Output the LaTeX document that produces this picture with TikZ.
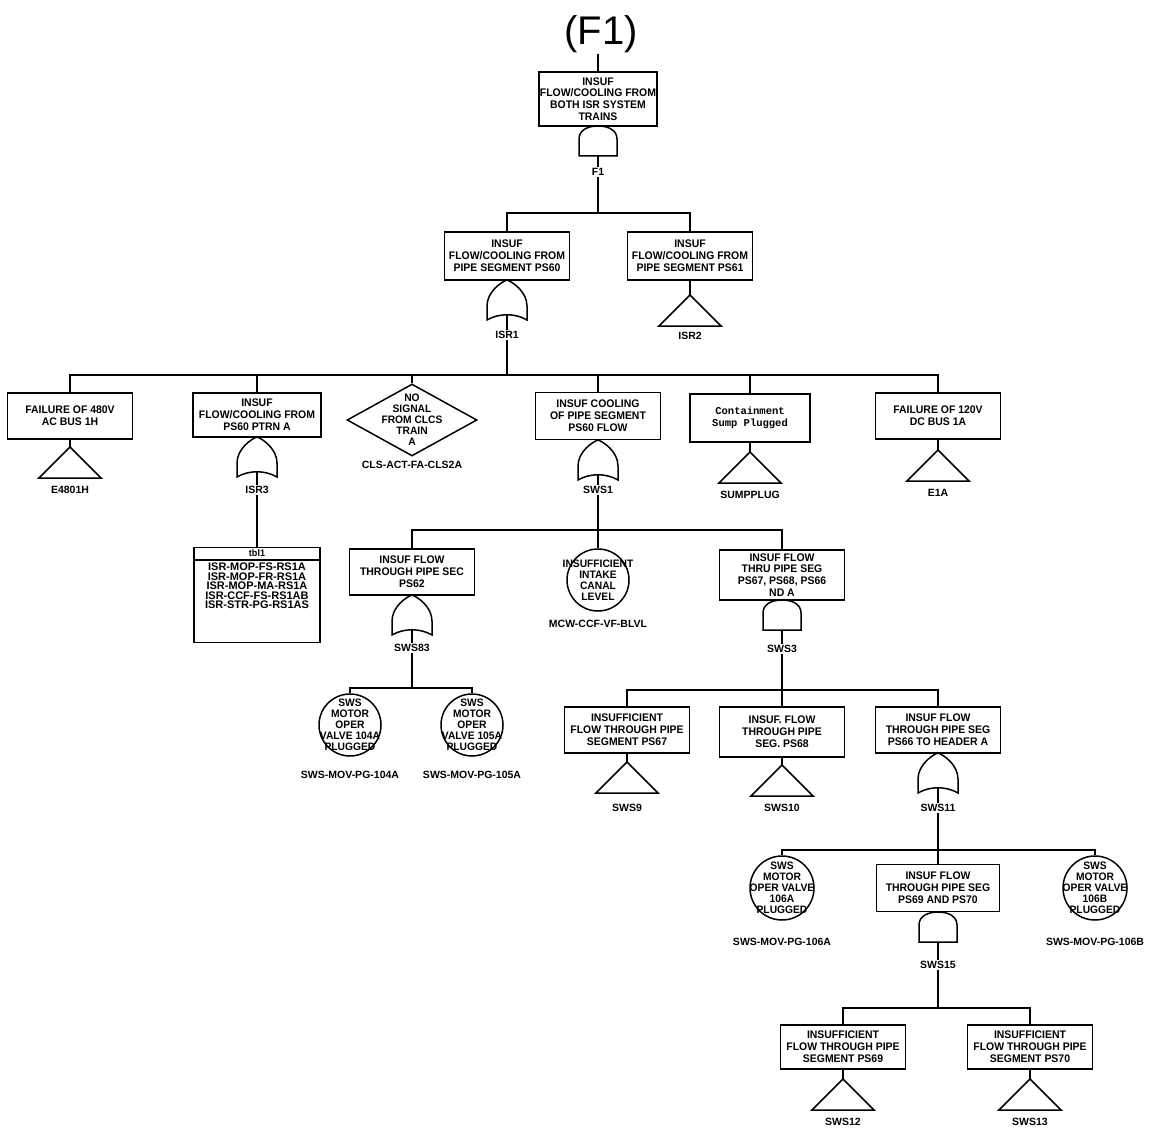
\documentclass[tikz,border=0pt]{standalone}
\usepackage{fontspec}
\setmainfont{Liberation Sans}
\newfontfamily\cadfont{Liberation Sans}[FakeStretch=0.95]
\newfontfamily\cadwide{Liberation Sans}
\newfontfamily\typfont{Liberation Mono}
\usetikzlibrary{shapes.geometric}
\newcommand{\evfont}{\cadfont\bfseries\fontsize{11}{11.8}\selectfont}
\newcommand{\tagfont}{\cadwide\bfseries\fontsize{10.5}{11}\selectfont}
\tikzset{
  ln/.style={line width=1.5pt},
  evbox/.style={draw, ln, minimum width=125pt, minimum height=47pt, inner sep=1pt, align=center, font=\evfont},
  evtext/.style={align=center, inner sep=0pt, font=\evfont},
  basic/.style={draw, circle, ln, minimum size=62pt, inner sep=0pt},
  bastext/.style={align=center, inner sep=0pt, font=\cadfont\bfseries\fontsize{10.8}{11}\selectfont},
  tag/.style={inner sep=1pt, font=\tagfont},
  andgate/.pic={
    \draw[ln] (-19,30) -- (-19,13) .. controls (-19,4) and (-10,0) .. (0,0)
      .. controls (10,0) and (19,4) .. (19,13) -- (19,30) -- cycle;
    \coordinate (-in) at (0,0);
    \coordinate (-out) at (0,30);
  },
  orgate/.pic={
    \draw[ln] (0,0) .. controls (-6,2) and (-20,12) .. (-20,26) -- (-20,40)
      .. controls (-8,33) and (8,33) .. (20,40) -- (20,26)
      .. controls (20,12) and (6,2) .. cycle;
    \coordinate (-in) at (0,0);
    \coordinate (-out) at (0,35);
  },
  xfer/.pic={
    \draw[ln] (0,0) -- (31,31) -- (-31,31) -- cycle;
    \coordinate (-in) at (0,0);
  },
}

\begin{document}
\begin{tikzpicture}[x=1pt,y=-1pt]
  \useasboundingbox (0,0) rectangle (1154,1134);

  % top event
  \node[font=\fontsize{40}{40}\selectfont, inner sep=1pt] (title) at (601,34) {(F1)};
  \node[evbox, minimum width=117pt, minimum height=54pt] (top) at (598,99)
    {INSUF\\FLOW/COOLING FROM\\BOTH ISR SYSTEM\\TRAINS};
  \pic (f1g) at (598,126) {andgate};
  \node[tag] (f1) at (598,172) {F1};
  \coordinate (j1) at (598,213);
  \draw[ln] (top.north |- title.south) -- (top.north);
  \draw[ln] (top.south) -- (f1g-in);
  \draw[ln] (f1g-out) -- (f1.north);
  \draw[ln] (f1.south) -- (j1);

  % pipe segments PS60 / PS61
  \node[evbox, minimum height=48pt] (ps60) at (507,256) {INSUF\\FLOW/COOLING FROM\\PIPE SEGMENT PS60};
  \node[evbox, minimum height=48pt] (ps61) at (690,256) {INSUF\\FLOW/COOLING FROM\\PIPE SEGMENT PS61};
  \foreach \c in {ps60,ps61} \draw[ln] (j1) -| (\c.north);
  \pic (isr1g) at (507,280) {orgate};
  \node[tag] (isr1) at (507,335) {ISR1};
  \pic (isr2t) at (690,295) {xfer};
  \node[tag] (isr2) at (690,336) {ISR2};
  \coordinate (j2) at (507,375);
  \draw[ln] (ps60.south) -- (isr1g-in);
  \draw[ln] (isr1g-out) -- (isr1.north);
  \draw[ln] (isr1.south) -- (j2);
  \draw[ln] (ps61.south) -- (isr2t-in);

  % inputs to ISR1
  \node[evbox, minimum height=46pt] (bus1h) at (70,416) {FAILURE OF 480V\\AC BUS 1H};
  \node[evbox, minimum width=128pt, minimum height=44pt] (ptrn) at (257,415) {INSUF\\FLOW/COOLING FROM\\PS60 PTRN A};
  \node[draw, diamond, ln, minimum width=130pt, minimum height=72pt, inner sep=0pt] (clcs) at (412,420) {};
  \node[evtext, font=\cadfont\bfseries\fontsize{10.8}{11}\selectfont] at (clcs) {NO\\SIGNAL\\FROM CLCS\\TRAIN\\A};
  \node[evbox] (cool) at (598,416) {INSUF COOLING\\OF PIPE SEGMENT\\PS60 FLOW};
  \node[evbox, minimum width=120pt, minimum height=48pt, font=\typfont\bfseries\fontsize{10.5}{12.5}\selectfont] (sump) at (750,418) {Containment\\Sump Plugged};
  \node[evbox, minimum height=46pt] (bus1a) at (938,416) {FAILURE OF 120V\\DC BUS 1A};
  \foreach \c in {bus1h,ptrn,clcs,cool,sump,bus1a} \draw[ln] (j2) -| (\c.north);

  \pic (e480t) at (70,447) {xfer};
  \node[tag] (e480) at (70,490) {E4801H};
  \draw[ln] (bus1h.south) -- (e480t-in);
  \pic (isr3g) at (257,437) {orgate};
  \node[tag] (isr3) at (257,490) {ISR3};
  \draw[ln] (ptrn.south) -- (isr3g-in);
  \draw[ln] (isr3g-out) -- (isr3.north);
  \node[tag] (clsid) at (412,465) {CLS-ACT-FA-CLS2A};
  \pic (sws1g) at (598,440) {orgate};
  \node[tag] (sws1) at (598,490) {SWS1};
  \draw[ln] (cool.south) -- (sws1g-in);
  \draw[ln] (sws1g-out) -- (sws1.north);
  \pic (sumpt) at (750,452) {xfer};
  \node[tag] (sumpid) at (750,495) {SUMPPLUG};
  \draw[ln] (sump.south) -- (sumpt-in);
  \pic (e1at) at (938,450) {xfer};
  \node[tag] (e1a) at (938,493) {E1A};
  \draw[ln] (bus1a.south) -- (e1at-in);

  % table of ISR3 basic events
  \node[draw, ln, minimum width=126pt, minimum height=95pt, inner sep=0pt] (tbl) at (257,595) {};
  \draw[ln] ([yshift=-13pt]tbl.north west) -- ([yshift=-13pt]tbl.north east);
  \node[tag, font=\cadfont\bfseries\fontsize{9.5}{10}\selectfont] at ([yshift=-6.5pt]tbl.north) {tbl1};
  \node[evtext, font=\cadwide\bfseries\fontsize{11}{9.5}\selectfont, anchor=north] at ([yshift=-16pt]tbl.north)
    {ISR-MOP-FS-RS1A\\ISR-MOP-FR-RS1A\\ISR-MOP-MA-RS1A\\ISR-CCF-FS-RS1AB\\ISR-STR-PG-RS1AS};
  \draw[ln] (isr3.south) -- (tbl.north);

  % inputs to SWS1
  \coordinate (j3) at (598,530);
  \draw[ln] (sws1.south) -- (j3);
  \node[evbox, minimum height=46pt] (ps62) at (412,572) {INSUF FLOW\\THROUGH PIPE SEC\\PS62};
  \node[basic] (canal) at (598,580) {};
  \node[bastext] at (canal) {INSUFFICIENT\\INTAKE\\CANAL\\LEVEL};
  \node[evbox, minimum height=50pt] (thru) at (782,575) {INSUF FLOW\\THRU PIPE SEG\\PS67, PS68, PS66\\ND A};
  \foreach \c in {ps62,canal,thru} \draw[ln] (j3) -| (\c.north);
  \node[tag] (mcw) at (598,624) {MCW-CCF-VF-BLVL};

  \pic (sws83g) at (412,595) {orgate};
  \node[tag] (sws83) at (412,648) {SWS83};
  \draw[ln] (ps62.south) -- (sws83g-in);
  \draw[ln] (sws83g-out) -- (sws83.north);
  \coordinate (j4) at (412,688);
  \draw[ln] (sws83.south) -- (j4);
  \node[basic] (v104) at (350,725) {};
  \node[bastext] at (v104) {SWS\\MOTOR\\OPER\\VALVE 104A\\PLUGGED};
  \node[basic] (v105) at (472,725) {};
  \node[bastext] at (v105) {SWS\\MOTOR\\OPER\\VALVE 105A\\PLUGGED};
  \foreach \c in {v104,v105} \draw[ln] (j4) -| (\c.north);
  \node[tag] (id104) at (350,775) {SWS-MOV-PG-104A};
  \node[tag] (id105) at (472,775) {SWS-MOV-PG-105A};

  \pic (sws3g) at (782,600) {andgate};
  \node[tag] (sws3) at (782,649) {SWS3};
  \draw[ln] (sws3g-out) -- (sws3.north);
  \coordinate (j5) at (782,690);
  \draw[ln] (sws3.south) -- (j5);

  % inputs to SWS3
  \node[evbox, minimum height=46pt] (ps67) at (627,730) {INSUFFICIENT\\FLOW THROUGH PIPE\\SEGMENT PS67};
  \node[evbox, minimum height=50pt] (ps68) at (782,732) {INSUF. FLOW\\THROUGH PIPE\\SEG. PS68};
  \node[evbox, minimum height=46pt] (hdr) at (938,730) {INSUF FLOW\\THROUGH PIPE SEG\\PS66 TO HEADER A};
  \foreach \c in {ps67,ps68,hdr} \draw[ln] (j5) -| (\c.north);
  \pic (sws9t) at (627,762) {xfer};
  \node[tag] (sws9) at (627,808) {SWS9};
  \draw[ln] (ps67.south) -- (sws9t-in);
  \pic (sws10t) at (782,765) {xfer};
  \node[tag] (sws10) at (782,808) {SWS10};
  \draw[ln] (ps68.south) -- (sws10t-in);
  \pic (sws11g) at (938,753) {orgate};
  \node[tag] (sws11) at (938,808) {SWS11};
  \draw[ln] (hdr.south) -- (sws11g-in);
  \draw[ln] (sws11g-out) -- (sws11.north);
  \coordinate (j6) at (938,850);
  \draw[ln] (sws11.south) -- (j6);

  % inputs to SWS11
  \node[basic, minimum size=64pt] (v106a) at (782,888) {};
  \node[bastext] at (v106a) {SWS\\MOTOR\\OPER VALVE\\106A\\PLUGGED};
  \node[evbox, minimum width=123pt] (ps6970) at (938,888) {INSUF FLOW\\THROUGH PIPE SEG\\PS69 AND PS70};
  \node[basic, minimum size=64pt] (v106b) at (1095,888) {};
  \node[bastext] at (v106b) {SWS\\MOTOR\\OPER VALVE\\106B\\PLUGGED};
  \foreach \c in {v106a,ps6970,v106b} \draw[ln] (j6) -| (\c.north);
  \node[tag] (id106a) at (782,942) {SWS-MOV-PG-106A};
  \node[tag] (id106b) at (1095,942) {SWS-MOV-PG-106B};
  \pic (sws15g) at (938,912) {andgate};
  \node[tag] (sws15) at (938,965) {SWS15};
  \draw[ln] (sws15g-out) -- (sws15.north);
  \coordinate (j7) at (938,1008);
  \draw[ln] (sws15.south) -- (j7);

  % inputs to SWS15
  \node[evbox, minimum height=44pt] (ps69) at (843,1047) {INSUFFICIENT\\FLOW THROUGH PIPE\\SEGMENT PS69};
  \node[evbox, minimum height=44pt] (ps70) at (1030,1047) {INSUFFICIENT\\FLOW THROUGH PIPE\\SEGMENT PS70};
  \foreach \c in {ps69,ps70} \draw[ln] (j7) -| (\c.north);
  \pic (sws12t) at (843,1079) {xfer};
  \node[tag] (sws12) at (843,1122) {SWS12};
  \draw[ln] (ps69.south) -- (sws12t-in);
  \pic (sws13t) at (1030,1079) {xfer};
  \node[tag] (sws13) at (1030,1122) {SWS13};
  \draw[ln] (ps70.south) -- (sws13t-in);
\end{tikzpicture}
\end{document}
